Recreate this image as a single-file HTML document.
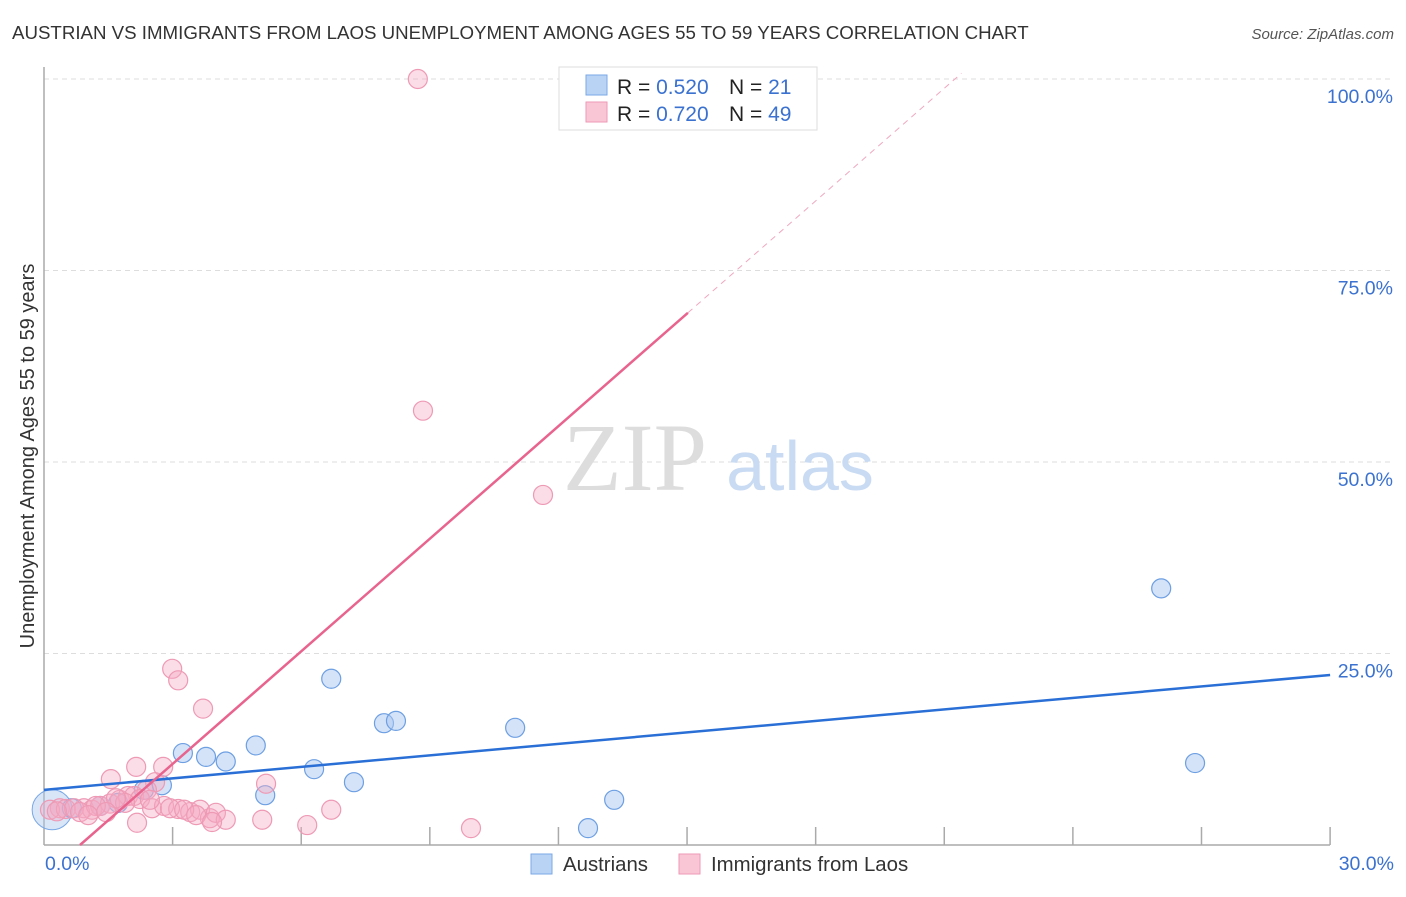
<!DOCTYPE html>
<html><head><meta charset="utf-8"><style>
body{margin:0;background:#fff;font-family:"Liberation Sans",sans-serif}
</style></head><body>
<svg id="chart" width="1406" height="892" xmlns="http://www.w3.org/2000/svg">
<text x="12" y="39" font-size="18.7" fill="#333">AUSTRIAN VS IMMIGRANTS FROM LAOS UNEMPLOYMENT AMONG AGES 55 TO 59 YEARS CORRELATION CHART</text>
<text x="1394" y="39" font-size="15" fill="#555" font-style="italic" text-anchor="end">Source: ZipAtlas.com</text>
<text x="34" y="456" font-size="20" fill="#333" text-anchor="middle" transform="rotate(-90 34 456)">Unemployment Among Ages 55 to 59 years</text>
<g id="grid"></g>
<text x="635" y="490" font-size="96" fill="#ddd" font-family="Liberation Serif,serif" text-anchor="middle">ZIP</text>
<text x="800" y="490" font-size="70" fill="#c9dbf3" text-anchor="middle">atlas</text>
<g id="marks"></g>
<g>
<rect x="559" y="67" width="258" height="63" fill="#fff" stroke="#ddd"/>
<rect x="586" y="75" width="21" height="20" fill="#b9d3f5" stroke="#7aa8e6"/>
<rect x="586" y="102" width="21" height="20" fill="#f9c6d6" stroke="#ee9ab5"/>
<text x="617" y="94" font-size="21" fill="#222">R = <tspan fill="#3b72d0">0.520</tspan></text>
<text x="729" y="94" font-size="21" fill="#222">N = <tspan fill="#3b72d0"> 21</tspan></text>
<text x="617" y="121" font-size="21" fill="#222">R = <tspan fill="#3b72d0">0.720</tspan></text>
<text x="729" y="121" font-size="21" fill="#222">N = <tspan fill="#3b72d0">49</tspan></text>
</g>
<g>
<rect x="531" y="854" width="21" height="20" fill="#b9d3f5" stroke="#7aa8e6"/>
<text x="563" y="871" font-size="20.4" fill="#333">Austrians</text>
<rect x="679" y="854" width="21" height="20" fill="#f9c6d6" stroke="#ee9ab5"/>
<text x="711" y="871" font-size="20.4" fill="#333">Immigrants from Laos</text>
</g>
</svg>
<script>
const yTicks=[25,50,75,100];
const yTickLabels=["25.0%","50.0%","75.0%","100.0%"];
const xTickLabels=["0.0%","30.0%"];
const ausX=[0.19,0.65,1.31,1.73,2.33,2.75,3.24,3.78,4.24,4.94,5.16,6.3,6.7,7.23,7.93,8.21,10.99,12.69,13.3,26.06,26.85];
const ausY=[4.6,4.8,5.1,5.5,7.2,7.8,12.0,11.5,10.9,13.0,6.5,9.9,21.7,8.2,15.9,16.2,15.3,2.2,5.9,33.5,10.7];
const laoX=[8.72,8.84,11.64,2.99,3.13,3.71,1.56,2.15,2.78,2.59,2.4,5.18,0.93,1.12,0.37,0.14,0.51,0.7,1.31,1.54,1.77,1.96,2.1,2.24,1.89,2.52,2.8,3.13,3.41,3.64,3.87,4.01,4.24,2.17,5.09,6.14,6.7,9.96,0.84,1.21,1.68,2.94,1.03,0.30,2.47,3.27,3.55,3.92,1.45];
const laoY=[100,56.7,45.7,23.0,21.5,17.8,8.6,10.2,10.2,8.2,7.2,8.0,4.8,4.6,4.8,4.6,4.7,4.8,5.1,5.4,5.9,6.4,6.4,6.0,5.5,4.8,5.1,4.7,4.3,4.6,3.5,4.2,3.3,2.9,3.3,2.6,4.6,2.2,4.3,5.1,6.1,4.8,3.9,4.4,5.9,4.6,3.9,3.0,4.3];
const ausLine=[7.2,22.2];
const laoLine={x0:0.84,x1:15.02,x2:21.4,slope:4.9};
const ns="http://www.w3.org/2000/svg";
const X=v=>44+v*42.87, Y=v=>845-v*7.66;
const grid=document.getElementById('grid'), marks=document.getElementById('marks');
function mk(tag,attrs,parent){const e=document.createElementNS(ns,tag);for(const k in attrs)e.setAttribute(k,attrs[k]);parent.appendChild(e);return e;}
yTicks.forEach((t,i)=>{
 const l=mk('line',{x1:44,x2:1394,y1:Y(t),y2:Y(t),stroke:'#ddd','stroke-dasharray':'5,4'},grid);
 
 
 const tx=mk('text',{x:1393,y:Y(t)+24,'font-size':19.5,fill:'#3b72d0','text-anchor':'end'},grid);
 tx.textContent=yTickLabels[i];
 
 
});
const ax=mk('line',{x1:44,x2:1330,y1:845,y2:845,stroke:'#aaa','stroke-width':1.5},grid);


const ay=mk('line',{x1:44,x2:44,y1:67,y2:845,stroke:'#aaa','stroke-width':1.5},grid);


for(let i=1;i<=10;i++){const t=mk('line',{x1:X(i*3),x2:X(i*3),y1:827,y2:845,stroke:'#aaa','stroke-width':1.5},grid);
 
 }
[[0,'start',45],[30,'end',1394]].forEach((d,i)=>{const t=mk('text',{x:d[2],y:870,'font-size':19.5,fill:'#3b72d0','text-anchor':d[1]},grid);t.textContent=xTickLabels[i];
 
 });
const big=mk('circle',{cx:X(0.19),cy:Y(4.6),r:20,fill:'rgba(169,200,239,0.45)',stroke:'#7aa8e6'},marks);


ausX.forEach((x,i)=>{if(i===0)return;const c=mk('circle',{cx:X(x),cy:Y(ausY[i]),r:9.5,fill:'rgba(169,200,239,0.5)',stroke:'#6d9fe3','stroke-width':1.2},marks);
 
 });
laoX.forEach((x,i)=>{const c=mk('circle',{cx:X(x),cy:Y(laoY[i]),r:9.5,fill:'rgba(245,170,195,0.4)',stroke:'#ee9ab5','stroke-width':1.2},marks);
 
 });
const bl=mk('line',{x1:X(0),y1:Y(ausLine[0]),x2:X(30),y2:Y(ausLine[1]),stroke:'#2a6fd6','stroke-width':2.5},marks);


const ly=x=>(x-laoLine.x0)*laoLine.slope;
const pl=mk('line',{x1:X(laoLine.x0),y1:Y(0),x2:X(laoLine.x1),y2:Y(ly(laoLine.x1)),stroke:'#e8648f','stroke-width':2.5},marks);


const pd=mk('line',{x1:X(laoLine.x1),y1:Y(ly(laoLine.x1)),x2:X(laoLine.x2),y2:Y(ly(laoLine.x2)),stroke:'#f0a8bf','stroke-width':1,'stroke-dasharray':'6,5'},marks);


</script>
</body></html>
